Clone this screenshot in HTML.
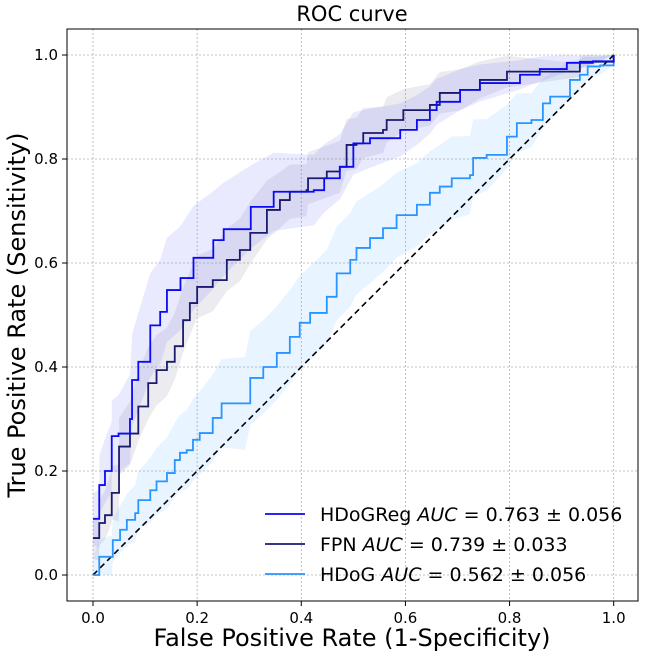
<!DOCTYPE html>
<html><head><meta charset="utf-8"><style>
body{margin:0;background:#fff;}
svg text{font-family:"DejaVu Sans","Liberation Sans",sans-serif;fill:#000;}
</style></head><body>
<svg width="645" height="658" viewBox="0 0 645 658" xmlns="http://www.w3.org/2000/svg">
<g id="grid"></g>
<g id="bands"></g>
<g id="lines"></g>
<rect x="67" y="29" width="571" height="572" fill="none" stroke="#000" stroke-width="1"/>
<g id="ticks"></g>
<text x="352" y="21" font-size="21" text-anchor="middle">ROC curve</text>
<text x="352" y="646" font-size="24" text-anchor="middle">False Positive Rate (1-Specificity)</text>
<text transform="translate(25,315) rotate(-90)" font-size="24" text-anchor="middle">True Positive Rate (Sensitivity)</text>
<g>
<g><line x1="265" y1="514" x2="305" y2="514" stroke="#0a0af5" stroke-width="1.8"/><text x="320" y="521" font-size="19">HDoGReg <tspan font-style="italic">AUC</tspan> = 0.763 ± 0.056</text></g>
<g><line x1="265" y1="544" x2="305" y2="544" stroke="#1b1b6e" stroke-width="1.8"/><text x="320" y="551" font-size="19">FPN <tspan font-style="italic">AUC</tspan> = 0.739 ± 0.033</text></g>
<g><line x1="265" y1="574" x2="305" y2="574" stroke="#2a95ff" stroke-width="1.8"/><text x="320" y="581" font-size="19">HDoG <tspan font-style="italic">AUC</tspan> = 0.562 ± 0.056</text></g>
</g>
</svg>
<script>
const tickValues=[0,0.2,0.4,0.6,0.8,1.0];
const tickLabels=["0.0","0.2","0.4","0.6","0.8","1.0"];
const stdGrid=[0,0.1,0.2,0.3,0.4,0.5,0.6,0.7,0.8,0.9,1.0];
const regFpr=[0,0.012,0.012,0.023,0.023,0.036,0.036,0.049,0.071,0.075,0.087,0.11,0.129,0.142,0.168,0.193,0.231,0.251,0.303,0.347,0.424,0.444,0.474,0.5,0.532,0.59,0.622,0.647,0.66,0.705,0.743,0.82,0.858,0.91,0.96,1.0];
const regTpr=[0.108,0.108,0.173,0.2,0.2,0.227,0.267,0.272,0.30,0.375,0.41,0.48,0.506,0.548,0.571,0.61,0.644,0.665,0.708,0.737,0.74,0.763,0.785,0.83,0.84,0.856,0.875,0.894,0.91,0.933,0.946,0.962,0.973,0.985,0.988,1.0];
const regStd=[0.05,0.1,0.1,0.08,0.07,0.06,0.05,0.04,0.03,0.02,0.0];
const fpnFpr=[0,0.012,0.012,0.023,0.036,0.036,0.05,0.05,0.071,0.087,0.106,0.122,0.142,0.157,0.173,0.186,0.2,0.23,0.257,0.282,0.302,0.334,0.359,0.378,0.41,0.413,0.449,0.474,0.487,0.506,0.519,0.557,0.564,0.596,0.647,0.666,0.705,0.743,0.795,0.935,0.935,1.0];
const fpnTpr=[0.071,0.071,0.1,0.115,0.152,0.158,0.158,0.247,0.272,0.324,0.369,0.394,0.41,0.44,0.49,0.523,0.554,0.567,0.606,0.625,0.658,0.702,0.721,0.737,0.74,0.763,0.776,0.785,0.827,0.83,0.85,0.856,0.875,0.894,0.904,0.927,0.933,0.952,0.968,0.971,0.987,1.0];
const fpnStd=[0.04,0.07,0.06,0.06,0.05,0.05,0.04,0.04,0.03,0.02,0.0];
const hdogFpr=[0,0.012,0.036,0.038,0.052,0.065,0.081,0.087,0.11,0.122,0.142,0.157,0.167,0.18,0.192,0.205,0.23,0.247,0.292,0.302,0.327,0.353,0.378,0.397,0.417,0.449,0.468,0.494,0.506,0.532,0.557,0.583,0.622,0.647,0.666,0.689,0.724,0.73,0.756,0.795,0.814,0.842,0.864,0.878,0.916,0.935,0.95,0.974,1.0];
const hdogTpr=[0,0.035,0.035,0.067,0.087,0.106,0.119,0.144,0.163,0.18,0.196,0.221,0.235,0.24,0.26,0.273,0.302,0.33,0.33,0.379,0.4,0.427,0.458,0.485,0.504,0.535,0.58,0.606,0.629,0.648,0.667,0.692,0.712,0.735,0.747,0.763,0.769,0.802,0.808,0.843,0.869,0.875,0.907,0.92,0.952,0.962,0.978,0.98,0.99];
const hdogStd=[0.03,0.06,0.08,0.09,0.09,0.09,0.08,0.08,0.06,0.04,0.01];
const X=v=>93+v*520.7, Y=v=>575-v*520;
const NS="http://www.w3.org/2000/svg";
function mk(tag,attrs,parent){const e=document.createElementNS(NS,tag);for(const k in attrs)e.setAttribute(k,attrs[k]);parent.appendChild(e);return e;}
const grid=document.getElementById('grid'),ticks=document.getElementById('ticks'),bands=document.getElementById('bands'),lines=document.getElementById('lines');
tickValues.forEach((v,i)=>{
 let g1=mk('line',{x1:X(v),x2:X(v),y1:29,y2:601,stroke:'#b0b0b0','stroke-dasharray':'2,2','stroke-width':0.8},grid);
 
 
 let g2=mk('line',{x1:67,x2:638,y1:Y(v),y2:Y(v),stroke:'#b0b0b0','stroke-dasharray':'2,2','stroke-width':0.8},grid);
 
 
 mk('line',{x1:X(v),x2:X(v),y1:601,y2:606,stroke:'#000'},ticks);
 mk('line',{x1:62,x2:67,y1:Y(v),y2:Y(v),stroke:'#000'},ticks);
 let tx=mk('text',{x:X(v),y:623,'font-size':15,'text-anchor':'middle'},ticks);tx.textContent=tickLabels[i];
 
 
 let ty=mk('text',{x:58,y:Y(v)+5,'font-size':15,'text-anchor':'end'},ticks);ty.textContent=tickLabels[i];
 
 
});
function stdAt(std,f){const i=Math.min(9,Math.floor(f*10));const t=(f-stdGrid[i])/0.1;return std[i]*(1-t)+std[i+1]*t;}
function band(fpr,tpr,std,fill,name){
 const up=fpr.map((f,i)=>X(f)+','+Y(Math.min(1,tpr[i]+stdAt(std,f))));
 const lo=fpr.map((f,i)=>X(f)+','+Y(Math.max(0,tpr[i]-stdAt(std,f)))).reverse();
 const p=mk('polygon',{points:up.concat(lo).join(' '),fill:fill},bands);
 
 
}
function line(fpr,tpr,col,name){
 let d='M'+X(fpr[0])+' '+Y(tpr[0]);
 for(let i=1;i<fpr.length;i++){d+=' H'+X(fpr[i])+' V'+Y(tpr[i]);}
 const p=mk('path',{d:d,fill:'none',stroke:col,'stroke-width':1.8},lines);
 
 
}
band(hdogFpr,hdogTpr,hdogStd,'rgba(30,144,255,0.10)','hdog-band');
band(fpnFpr,fpnTpr,fpnStd,'rgba(110,110,150,0.14)','fpn-band');
band(regFpr,regTpr,regStd,'rgba(90,90,255,0.13)','hdogreg-band');
const d=mk('line',{x1:X(0),y1:Y(0),x2:X(1),y2:Y(1),stroke:'#000','stroke-width':1.6,'stroke-dasharray':'6,4'},lines);


line(hdogFpr,hdogTpr,'#2a95ff','hdog-curve');
line(fpnFpr,fpnTpr,'#1b1b6e','fpn-curve');
line(regFpr,regTpr,'#0a0af5','hdogreg-curve');
</script>
</body></html>
